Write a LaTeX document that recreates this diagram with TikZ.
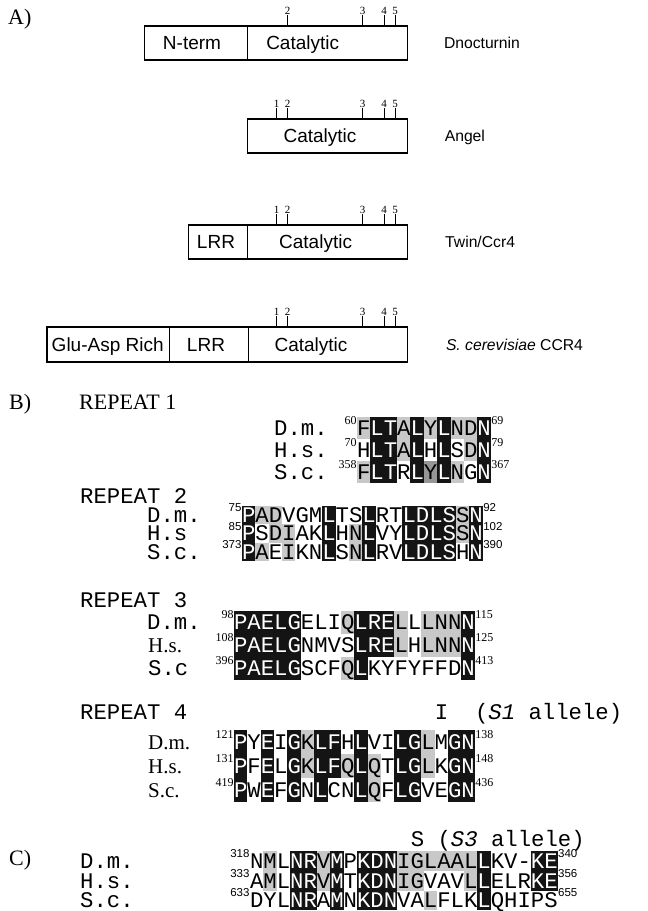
\documentclass[tikz,border=0pt]{standalone}
\usepackage{fontspec}
\setmainfont{Liberation Serif}
\setsansfont{Liberation Sans}
\setmonofont{Liberation Mono}
\definecolor{fillb}{RGB}{20,20,20}
\definecolor{fillg}{RGB}{200,200,200}
\definecolor{filld}{RGB}{150,150,150}
\definecolor{fillw}{RGB}{255,255,255}
\colorlet{textb}{white}
\colorlet{textg}{black}
\colorlet{textd}{black}
\colorlet{textw}{black}
\newcommand\domfont{\sffamily\fontsize{19}{19}\selectfont}
\newcommand\protfont{\sffamily\fontsize{15.7}{16}\selectfont}
\newcommand\tickfont{\rmfamily\fontsize{11}{11}\selectfont}
\newcommand\panelfont{\rmfamily\fontsize{22}{22}\selectfont}
\newcommand\seqfont{\ttfamily\fontsize{22.3}{22}\selectfont}
\newcommand\spfont{\rmfamily\fontsize{21}{21}\selectfont}
\newcommand\posrm{\rmfamily\fontsize{12}{12}\selectfont}
\newcommand\possf{\sffamily\fontsize{11.5}{12}\selectfont}
\def\cw{13.38}
\tikzset{dombox/.style={line width=1.1pt},
  dom/.style={font=\domfont,inner sep=0pt,text height=13.6pt,text depth=0pt},
  prot/.style={font=\protfont,anchor=west,inner sep=0pt,text height=11.2pt,text depth=0pt},
  tick/.style={line width=0.9pt},
  ticknum/.style={font=\tickfont,anchor=south,inner sep=0.3pt},
  panel/.style={font=\panelfont,anchor=west,inner sep=0pt,text height=14.5pt,text depth=0pt},
  res/.style={font=\seqfont,inner sep=0pt,minimum width=13.6pt,text height=14.5pt,text depth=0pt},
  sptt/.style={font=\seqfont,anchor=west,inner sep=0pt,text height=14.5pt,text depth=0pt},
  sprm/.style={font=\spfont,anchor=west,inner sep=0pt,text height=14pt,text depth=0pt},
  nrm/.style={font=\posrm,inner sep=0.3pt},
  nsf/.style={font=\possf,inner sep=0.3pt}}

\begin{document}
\begin{tikzpicture}[x=1pt,y=-1pt]
  \useasboundingbox (0,0) rectangle (648,911);
  % A) domain maps
  \node[panel] (lab-a) at (8,17) {A)};
  % Dnocturnin
  \draw[dombox] (144.2,26) rectangle (407.5,60);
  \draw[dombox] (247.1,26) -- (247.1,60);
  \node[dom] (dn-nterm) at (192,43) {N-term};
  \node[dom] (dn-cat) at (302.7,43) {Catalytic};
  \node[prot] (dn-name) at (443.8,43) {Dnocturnin};
  \foreach \t/\x in {2/287.5,3/362.5,4/384.2,5/395}{
    \draw[tick] (\x,26) -- (\x,15);
    \node[ticknum] (dn-t\t) at (\x,15) {\t};}
  % Angel
  \draw[dombox] (247.1,119) rectangle (407.5,153);
  \node[dom] (an-cat) at (320,136) {Catalytic};
  \node[prot] (an-name) at (444.6,136) {Angel};
  \foreach \t/\x in {1/276.7,2/287.5,3/362.5,4/384.2,5/395}{
    \draw[tick] (\x,119) -- (\x,108);
    \node[ticknum] (an-t\t) at (\x,108) {\t};}
  % Twin/Ccr4
  \draw[dombox] (188.8,225) rectangle (407.5,259);
  \draw[dombox] (247.1,225) -- (247.1,259);
  \node[dom] (tw-lrr) at (216,242) {LRR};
  \node[dom] (tw-cat) at (315.6,242) {Catalytic};
  \node[prot] (tw-name) at (445,242) {Twin/Ccr4};
  \foreach \t/\x in {1/276.7,2/287.5,3/362.5,4/384.2,5/395}{
    \draw[tick] (\x,225) -- (\x,214);
    \node[ticknum] (tw-t\t) at (\x,214) {\t};}
  % S. cerevisiae CCR4
  \draw[dombox] (47,327) rectangle (407.5,362);
  \draw[dombox] (169.6,327) -- (169.6,362);
  \draw[dombox] (248.7,327) -- (248.7,362);
  \node[dom] (sc-glu) at (107.7,344.5) {Glu-Asp Rich};
  \node[dom] (sc-lrr) at (206,344.5) {LRR};
  \node[dom] (sc-cat) at (311,344.5) {Catalytic};
  \node[prot] (sc-name) at (445.8,344.5) {\textit{S. cerevisiae} CCR4};
  \foreach \t/\x in {1/276.7,2/287.5,3/362.5,4/384.2,5/395}{
    \draw[tick] (\x,327) -- (\x,316);
    \node[ticknum] (sc-t\t) at (\x,316) {\t};}

  % B) repeat 1
  \node[panel] (lab-b) at (9,402) {B)};
  \node[panel] (r1-title) at (79,402) {REPEAT 1};
  \node[sptt] (r1-dm) at (274,428) {D.m.};
  \node[sptt] (r1-hs) at (274,450) {H.s.};
  \node[sptt] (r1-sc) at (274,472) {S.c.};
  \foreach \ch/\sh [count=\i from 0] in {F/g,L/b,T/b,A/g,L/b,Y/g,L/b,N/g,D/g,N/b}
    \node[res,fill=fill\sh,text=text\sh,minimum height=22pt] (r1a-\i) at ({357+(\i+0.5)*\cw},428) {\ch};
  \foreach \ch/\sh [count=\i from 0] in {H/w,L/b,T/b,A/g,L/b,H/w,L/b,S/w,D/g,N/b}
    \node[res,fill=fill\sh,text=text\sh,minimum height=22pt] (r1b-\i) at ({357+(\i+0.5)*\cw},450) {\ch};
  \foreach \ch/\sh [count=\i from 0] in {F/g,L/b,T/b,R/w,L/b,Y/d,L/b,N/g,G/w,N/b}
    \node[res,fill=fill\sh,text=text\sh,minimum height=22pt] (r1c-\i) at ({357+(\i+0.5)*\cw},472) {\ch};
  \node[nrm,anchor=east] (r1a-s) at (357,421) {60};
  \node[nrm,anchor=west] (r1a-e) at (490.8,421) {69};
  \node[nrm,anchor=east] (r1b-s) at (357,443) {70};
  \node[nrm,anchor=west] (r1b-e) at (490.8,443) {79};
  \node[nrm,anchor=east] (r1c-s) at (357,465) {358};
  \node[nrm,anchor=west] (r1c-e) at (490.8,465) {367};

  % repeat 2
  \node[sptt] (r2-title) at (80,496) {REPEAT 2};
  \node[sptt] (r2-dm) at (147,515) {D.m.};
  \node[sptt] (r2-hs) at (147,533.5) {H.s};
  \node[sptt] (r2-sc) at (147,552) {S.c.};
  \foreach \ch/\sh [count=\i from 0] in {P/b,A/g,D/g,V/w,G/w,M/w,L/b,T/w,S/w,L/b,R/w,T/w,L/b,D/b,L/b,S/b,S/g,N/b}
    \node[res,fill=fill\sh,text=text\sh,minimum height=18.5pt] (r2a-\i) at ({242+(\i+0.5)*\cw},515) {\ch};
  \foreach \ch/\sh [count=\i from 0] in {P/b,S/w,D/g,I/g,A/w,K/w,L/b,H/w,N/g,L/b,V/w,Y/w,L/b,D/b,L/b,S/b,S/g,N/b}
    \node[res,fill=fill\sh,text=text\sh,minimum height=18.5pt] (r2b-\i) at ({242+(\i+0.5)*\cw},533.5) {\ch};
  \foreach \ch/\sh [count=\i from 0] in {P/b,A/g,E/w,I/g,K/w,N/w,L/b,S/w,N/g,L/b,R/w,V/w,L/b,D/b,L/b,S/b,H/w,N/b}
    \node[res,fill=fill\sh,text=text\sh,minimum height=18.5pt] (r2c-\i) at ({242+(\i+0.5)*\cw},552) {\ch};
  \node[nsf,anchor=east] (r2a-s) at (242,508) {75};
  \node[nsf,anchor=west] (r2a-e) at (482.8,508) {92};
  \node[nsf,anchor=east] (r2b-s) at (242,526.5) {85};
  \node[nsf,anchor=west] (r2b-e) at (482.8,526.5) {102};
  \node[nsf,anchor=east] (r2c-s) at (242,545) {373};
  \node[nsf,anchor=west] (r2c-e) at (482.8,545) {390};

  % repeat 3
  \node[sptt] (r3-title) at (80,600) {REPEAT 3};
  \node[sptt] (r3-dm) at (147,622) {D.m.};
  \node[sprm] (r3-hs) at (148,645) {H.s.};
  \node[sptt] (r3-sc) at (148,668) {S.c};
  \foreach \ch/\sh [count=\i from 0] in {P/b,A/b,E/b,L/b,G/b,E/w,L/w,I/w,Q/g,L/b,R/b,E/b,L/g,L/w,L/g,N/g,N/g,N/b}
    \node[res,fill=fill\sh,text=text\sh,minimum height=23pt] (r3a-\i) at ({234+(\i+0.5)*\cw},622) {\ch};
  \foreach \ch/\sh [count=\i from 0] in {P/b,A/b,E/b,L/b,G/b,N/w,M/w,V/w,S/w,L/b,R/b,E/b,L/g,H/w,L/g,N/g,N/g,N/b}
    \node[res,fill=fill\sh,text=text\sh,minimum height=23pt] (r3b-\i) at ({234+(\i+0.5)*\cw},645) {\ch};
  \foreach \ch/\sh [count=\i from 0] in {P/b,A/b,E/b,L/b,G/b,S/w,C/w,F/w,Q/g,L/b,K/w,Y/w,F/w,Y/w,F/w,F/w,D/w,N/b}
    \node[res,fill=fill\sh,text=text\sh,minimum height=23pt] (r3c-\i) at ({234+(\i+0.5)*\cw},668) {\ch};
  \node[nrm,anchor=east] (r3a-s) at (234,615) {98};
  \node[nrm,anchor=west] (r3a-e) at (474.8,615) {115};
  \node[nrm,anchor=east] (r3b-s) at (234,638) {108};
  \node[nrm,anchor=west] (r3b-e) at (474.8,638) {125};
  \node[nrm,anchor=east] (r3c-s) at (234,661) {396};
  \node[nrm,anchor=west] (r3c-e) at (474.8,661) {413};

  % repeat 4
  \node[sptt] (r4-title) at (80,712) {REPEAT 4};
  \node[sptt] (r4-s1) at (434.7,712) {I\ \ (\textit{S1} allele)};
  \node[sprm] (r4-dm) at (148,742) {D.m.};
  \node[sprm] (r4-hs) at (148,766) {H.s.};
  \node[sprm] (r4-sc) at (148,790) {S.c.};
  \foreach \ch/\sh [count=\i from 0] in {P/b,Y/w,E/b,I/w,G/b,K/g,L/b,F/b,H/w,L/b,V/w,I/w,L/b,G/b,L/g,M/w,G/b,N/b}
    \node[res,fill=fill\sh,text=text\sh,minimum height=24pt] (r4a-\i) at ({234+(\i+0.5)*\cw},742) {\ch};
  \foreach \ch/\sh [count=\i from 0] in {P/b,F/w,E/b,L/w,G/b,K/g,L/b,F/b,Q/g,L/b,Q/g,T/w,L/b,G/b,L/g,K/w,G/b,N/b}
    \node[res,fill=fill\sh,text=text\sh,minimum height=24pt] (r4b-\i) at ({234+(\i+0.5)*\cw},766) {\ch};
  \foreach \ch/\sh [count=\i from 0] in {P/b,W/w,E/b,F/w,G/b,N/w,L/b,C/w,N/w,L/b,Q/g,F/w,L/b,G/b,V/w,E/w,G/b,N/b}
    \node[res,fill=fill\sh,text=text\sh,minimum height=24pt] (r4c-\i) at ({234+(\i+0.5)*\cw},790) {\ch};
  \node[nrm,anchor=east] (r4a-s) at (234,735) {121};
  \node[nrm,anchor=west] (r4a-e) at (474.8,735) {138};
  \node[nrm,anchor=east] (r4b-s) at (234,759) {131};
  \node[nrm,anchor=west] (r4b-e) at (474.8,759) {148};
  \node[nrm,anchor=east] (r4c-s) at (234,783) {419};
  \node[nrm,anchor=west] (r4c-e) at (474.8,783) {436};

  % C) exonuclease motif
  \node[panel] (lab-c) at (9,858) {C)};
  \node[sptt] (c-s3) at (410.6,839) {S (\textit{S3} allele)};
  \node[sptt] (c-dm) at (80,861) {D.m.};
  \node[sptt] (c-hs) at (80,881) {H.s.};
  \node[sptt] (c-sc) at (80,900) {S.c.};
  \foreach \ch/\sh [count=\i from 0] in {N/w,M/g,L/w,N/b,R/b,V/g,M/b,P/w,K/b,D/b,N/b,I/g,G/g,L/g,A/g,A/g,L/g,L/b,K/w,V/w,-/w,K/b,E/b}
    \node[res,fill=fill\sh,text=text\sh,minimum height=20pt] (ca-\i) at ({250+(\i+0.5)*\cw},861) {\ch};
  \foreach \ch/\sh [count=\i from 0] in {A/w,M/g,L/w,N/b,R/b,V/g,M/b,T/w,K/b,D/b,N/b,I/g,G/g,V/w,A/w,V/w,L/g,L/b,E/w,L/w,R/w,K/b,E/b}
    \node[res,fill=fill\sh,text=text\sh,minimum height=20pt] (cb-\i) at ({250+(\i+0.5)*\cw},881) {\ch};
  \foreach \ch/\sh [count=\i from 0] in {D/w,Y/w,L/w,N/b,R/b,A/w,M/b,N/w,K/b,D/b,N/b,V/w,A/w,L/g,F/w,L/w,K/w,L/b,Q/w,H/w,I/w,P/w,S/w}
    \node[res,fill=fill\sh,text=text\sh,minimum height=19pt] (cc-\i) at ({250+(\i+0.5)*\cw},900) {\ch};
  \node[nsf,anchor=east] (ca-s) at (250,854) {318};
  \node[nsf,anchor=west] (ca-e) at (557.7,854) {340};
  \node[nsf,anchor=east] (cb-s) at (250,874) {333};
  \node[nsf,anchor=west] (cb-e) at (557.7,874) {356};
  \node[nsf,anchor=east] (cc-s) at (250,893) {633};
  \node[nsf,anchor=west] (cc-e) at (557.7,893) {655};
\end{tikzpicture}
\end{document}
